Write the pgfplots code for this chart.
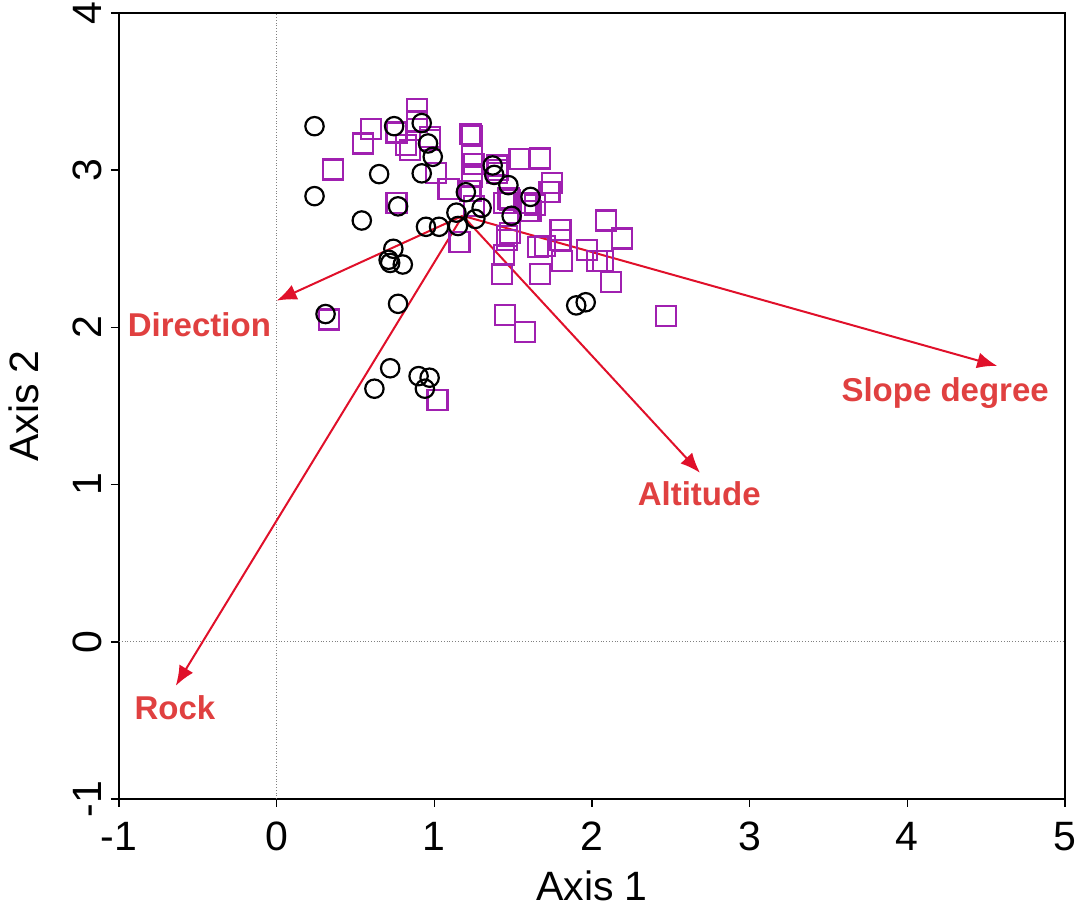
\documentclass[border=0pt]{standalone}
\usepackage{fontspec}
\setmainfont{Liberation Sans}
\usepackage{pgfplots}
\pgfplotsset{compat=1.18}
\usetikzlibrary{arrows.meta, calc}

\definecolor{sqpurple}{HTML}{A020B0}
\definecolor{arrowred}{HTML}{E0102A}
\definecolor{labred}{HTML}{E04040}

\begin{document}
\begin{tikzpicture}
\begin{axis}[
    scale only axis,
    width=473pt, height=393pt,
    xmin=-1, xmax=5, ymin=-1, ymax=4,
    xtick={-1,0,1,2,3,4,5},
    ytick={-1,0,1,2,3,4},
    tick align=outside,
    tick pos=left,
    major tick length=4pt,
    axis line style={line width=1pt},
    every tick/.style={black, line width=0.8pt},
    tick label style={font=\fontsize{20.5}{22}\selectfont},
    x tick label style={yshift=-4pt},
    y tick label style={rotate=90, anchor=south, yshift=1pt},
    /pgf/number format/assume math mode=true,
    xlabel={Axis 1}, ylabel={Axis 2},
    label style={font=\fontsize{20.5}{22}\selectfont},
    xlabel style={yshift=-3pt},
    ylabel style={yshift=10pt},
    clip=false,
]
% zero reference lines
\addplot[gray, densely dotted, line width=0.4pt] coordinates {(0,-1)(0,4)};
\addplot[gray, densely dotted, line width=0.4pt] coordinates {(-1,0)(5,0)};

% squares
\addplot[only marks, mark=square, mark size=5pt, sqpurple, line width=1.1pt] coordinates {
(0.89,3.39)(0.89,3.31)(0.60,3.26)(0.55,3.17)(0.76,3.24)(0.82,3.16)(0.845,3.13)
(0.97,3.21)(0.97,3.19)(0.355,3.005)(1.01,2.98)(1.09,2.88)(1.23,3.23)(1.24,3.22)
(1.24,3.10)(1.25,3.04)(1.24,2.96)(1.23,2.87)(1.395,3.03)(1.395,2.98)(1.54,3.07)
(1.67,3.075)(1.47,2.82)(1.44,2.79)(1.25,2.77)(1.585,2.79)(1.61,2.74)(1.16,2.545)
(1.46,2.58)(1.48,2.60)(1.44,2.46)(1.43,2.34)(0.76,2.79)(1.66,2.51)(1.67,2.34)
(1.745,2.92)(1.73,2.86)(1.405,3.00)(1.48,2.81)(1.64,2.78)(1.595,2.74)(1.46,2.555)
(1.70,2.52)(1.80,2.62)(1.80,2.555)(1.81,2.42)(2.09,2.68)(2.19,2.565)(1.97,2.49)
(2.03,2.42)(2.07,2.42)(2.12,2.29)(2.47,2.07)(1.45,2.08)(1.575,1.97)(0.33,2.05)
(1.02,1.54)
};

% circles
\addplot[only marks, mark=o, mark size=4.6pt, black, line width=1.1pt] coordinates {
(0.24,3.28)(0.745,3.28)(0.92,3.30)(0.96,3.17)(0.99,3.085)(0.65,2.975)(0.92,2.98)
(0.24,2.835)(0.77,2.77)(0.54,2.68)(0.947,2.64)(1.03,2.64)(1.14,2.73)(1.15,2.645)
(1.20,2.86)(1.30,2.76)(1.26,2.69)(1.37,3.03)(1.38,2.97)(1.47,2.905)(1.61,2.83)
(1.49,2.71)(0.74,2.50)(0.71,2.43)(0.72,2.41)(0.80,2.40)(0.77,2.15)(0.31,2.085)
(0.72,1.74)(0.62,1.61)(0.90,1.69)(0.97,1.68)(0.94,1.61)(1.90,2.14)(1.96,2.16)
};

% biplot arrows
\addplot[arrowred, line width=1pt, -{Latex[length=10pt,width=8pt]}] coordinates {(1.18,2.71)(0.0,2.17)};
\addplot[arrowred, line width=1pt, -{Latex[length=10pt,width=8pt]}] coordinates {(1.18,2.71)(-0.64,-0.28)};
\addplot[arrowred, line width=1pt, -{Latex[length=10pt,width=8pt]}] coordinates {(1.18,2.71)(2.685,1.075)};
\addplot[arrowred, line width=1pt, -{Latex[length=10pt,width=8pt]}] coordinates {(1.18,2.71)(4.57,1.755)};

\node[labred, font=\fontsize{16.5}{18}\selectfont\bfseries] at (axis cs:-0.49,2.02) {Direction};
\node[labred, font=\fontsize{16.5}{18}\selectfont\bfseries] at (axis cs:-0.645,-0.42) {Rock};
\node[labred, font=\fontsize{16.5}{18}\selectfont\bfseries] at (axis cs:2.68,0.94) {Altitude};
\node[labred, font=\fontsize{16.5}{18}\selectfont\bfseries] at (axis cs:4.24,1.58) {Slope degree};
\end{axis}
\pgfresetboundingbox
\path[use as bounding box] ($(current axis.south west)+(-59.5pt,-55pt)$) rectangle ($(current axis.north east)+(8pt,6.5pt)$);
\end{tikzpicture}
\end{document}
